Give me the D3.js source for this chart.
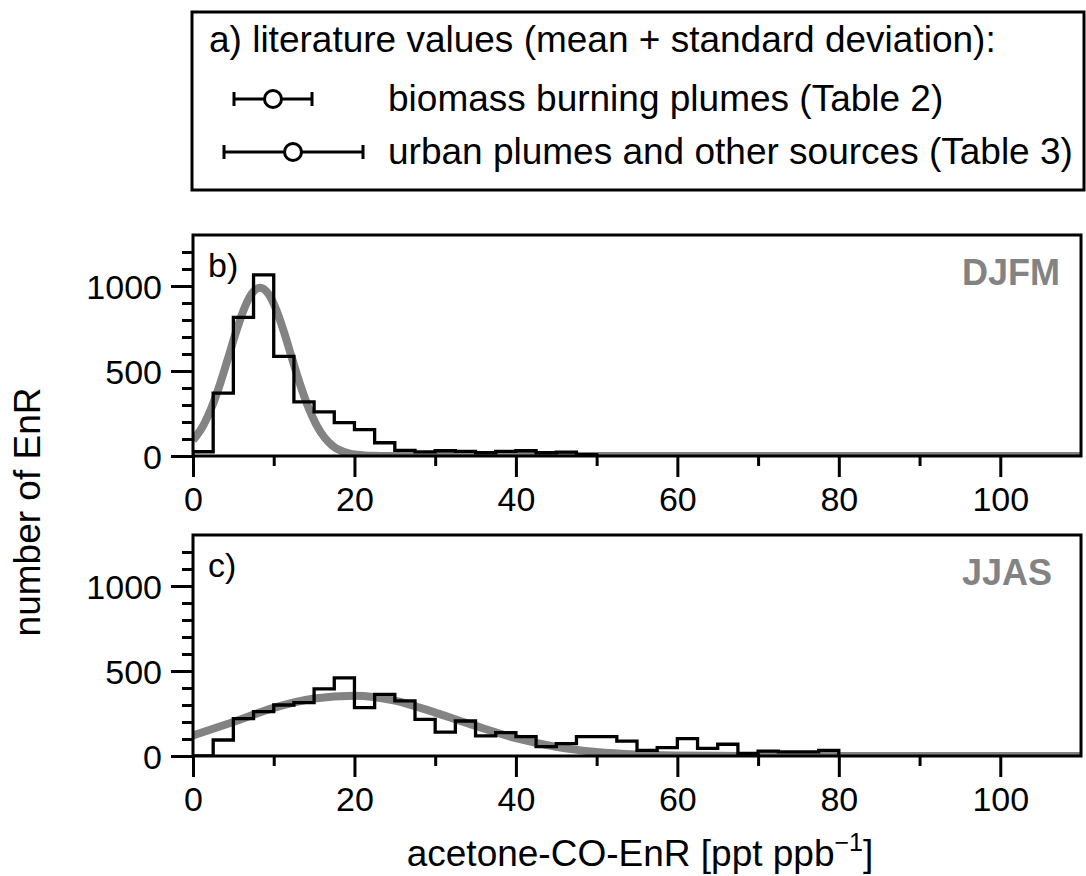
<!DOCTYPE html>
<html><head><meta charset="utf-8">
<script src="https://cdn.jsdelivr.net/npm/d3@7"></script>
<style>
body{margin:0;background:#fff}
svg{display:block;font-family:"Liberation Sans",Arial,Helvetica,sans-serif}
</style>
</head><body>
<svg id="chart" width="1086" height="876"></svg>
<script>
// ---------- data ----------
const binWidth = 2.5;
// panel b (DJFM) histogram counts, bins of 2.5 starting at 0
const countsDJFM = [25, 370, 816, 1066, 586, 318, 259, 196, 155, 78, 33, 24, 31, 27, 19, 27, 31, 19, 23, 8];
// panel c (JJAS) histogram counts
const countsJJAS = [0, 94, 220, 261, 300, 314, 395, 460, 284, 363, 324, 216, 141, 206, 118, 137, 114, 55, 73, 114, 114, 88, 33, 49, 102, 45, 69, 16, 29, 24, 24, 33];
// fitted curves
const fitXDJFM = [0, 1.3, 2.3, 3.3, 4.3, 5.3, 6.3, 7.3, 8.3, 9.3, 10.3, 11.3, 12.3, 13.3, 14.3, 15.3, 16.3, 17.3, 18.3, 19.3, 20.3, 21.3, 22.3, 24.3, 110];
const fitYDJFM = [92, 182, 285, 417, 569, 725, 862, 956, 990, 956, 862, 725, 569, 417, 285, 182, 108, 60, 31, 15, 7, 3, 1, 0, 0];
const fitXJJAS = [0, 5, 10, 15, 20, 25, 30, 35, 40, 45, 50, 55, 60, 65, 70, 110];
const fitYJJAS = [121, 200, 283, 338, 355, 326, 255, 177, 105, 54, 24, 9, 3, 1, 0, 0];
const xTicks = [0, 20, 40, 60, 80, 100];
const xMinorTicks = [10, 30, 50, 70, 90];
const yTicks = [0, 500, 1000];
const yMinorTicks = [100, 200, 300, 400, 600, 700, 800, 900, 1100, 1200];
const panelLabels = ["b)", "c)"];
const seasonLabels = ["DJFM", "JJAS"];
const legendTitle = "a) literature values (mean + standard deviation):";
const legendItems = ["biomass burning plumes (Table 2)", "urban plumes and other sources (Table 3)"];
const yTitle = "number of EnR";
const xTitle = "acetone-CO-EnR [ppt ppb";
const xTitleSup = "\u22121";

// ---------- layout ----------
const svg = d3.select("#chart");
const L = 193, R = 1081;
const panelTops = [235, 535];
const panelH = 221;
const x = d3.scaleLinear().domain([0, 110]).range([L, R]);
const gray = "#838383";

const series = [
  {counts: countsDJFM, fx: fitXDJFM, fy: fitYDJFM},
  {counts: countsJJAS, fx: fitXJJAS, fy: fitYJJAS}
];

series.forEach((s, k) => {
  const top = panelTops[k], bot = top + panelH;
  const y = d3.scaleLinear().domain([0, 1300]).range([bot, top]);
  const g = svg.append("g");
  const clipId = "clip" + k;
  svg.append("clipPath").attr("id", clipId).append("rect")
    .attr("x", L).attr("y", top).attr("width", R - L).attr("height", panelH);

  const plot = g.append("g").attr("clip-path", `url(#${clipId})`);
  const fitPts = s.fx.map((v, i) => [v, s.fy[i]]);
  plot.append("path")
    .attr("d", d3.line().x(d => x(d[0])).y(d => y(d[1])).curve(d3.curveMonotoneX)(fitPts))
    .attr("fill", "none").attr("stroke", gray).attr("stroke-width", 8);
  const pts = [[0, 0]].concat(s.counts.map((c, i) => [i * binWidth, c]));
  pts.push([s.counts.length * binWidth, 0]);
  plot.append("path")
    .attr("d", d3.line().x(d => x(d[0])).y(d => y(d[1])).curve(d3.curveStepAfter)(pts))
    .attr("fill", "none").attr("stroke", "#000").attr("stroke-width", 3.3);

  g.append("rect").attr("x", L).attr("y", top).attr("width", R - L).attr("height", panelH)
    .attr("fill", "none").attr("stroke", "#000").attr("stroke-width", 3);

  const xa = g.append("g").attr("transform", `translate(0,${bot})`)
    .call(d3.axisBottom(x).tickValues(xTicks).tickSize(21).tickPadding(8).tickFormat(d3.format("d")));
  const xm = g.append("g").attr("transform", `translate(0,${bot})`)
    .call(d3.axisBottom(x).tickValues(xMinorTicks).tickSize(10).tickFormat(""));
  const ya = g.append("g").attr("transform", `translate(${L},0)`)
    .call(d3.axisLeft(y).tickValues(yTicks).tickSize(22).tickPadding(9).tickFormat(d3.format("d")));
  const ym = g.append("g").attr("transform", `translate(${L},0)`)
    .call(d3.axisLeft(y).tickValues(yMinorTicks).tickSize(11).tickFormat(""));
  [xa, xm, ya, ym].forEach(a => {
    a.select(".domain").remove();
    a.selectAll("line").attr("stroke", "#000").attr("stroke-width", 3);
    a.selectAll("text").attr("fill", "#000").attr("font-size", 34)
      .attr("font-family", '"Liberation Sans", Arial, sans-serif');
  });
  xa.selectAll("text").attr("dy", null).attr("y", 55);
  ya.selectAll("text").attr("dy", "0.36em");

  g.append("text").attr("x", 208).attr("y", top + 42).attr("font-size", 34).text(panelLabels[k]);
  g.append("text").attr("x", 962).attr("y", top + 50).attr("font-size", 36)
    .attr("font-weight", "bold").attr("fill", gray).text(seasonLabels[k]);
});

svg.append("text").attr("transform", "translate(40,512) rotate(-90)")
  .attr("text-anchor", "middle").attr("font-size", 37).text(yTitle);
const xt = svg.append("text").attr("x", 640).attr("y", 866).attr("text-anchor", "middle").attr("font-size", 37);
xt.append("tspan").text(xTitle);
xt.append("tspan").attr("font-size", 25).attr("dy", -15).text(xTitleSup);
xt.append("tspan").attr("dy", 15).text("]");

const lg = svg.append("g");
lg.append("rect").attr("x", 192).attr("y", 12).attr("width", 892).attr("height", 178)
  .attr("fill", "none").attr("stroke", "#000").attr("stroke-width", 3);
lg.append("text").attr("x", 209).attr("y", 52).attr("font-size", 37).text(legendTitle);
const symbols = [{x0: 234, x1: 312, cx: 273, cy: 99}, {x0: 224, x1: 363, cx: 293, cy: 152}];
legendItems.forEach((t, i) => {
  const s = symbols[i];
  lg.append("line").attr("x1", s.x0).attr("x2", s.x1).attr("y1", s.cy).attr("y2", s.cy)
    .attr("stroke", "#000").attr("stroke-width", 3);
  [s.x0, s.x1].forEach(v => lg.append("line").attr("x1", v).attr("x2", v)
    .attr("y1", s.cy - 7).attr("y2", s.cy + 7).attr("stroke", "#000").attr("stroke-width", 3));
  lg.append("circle").attr("cx", s.cx).attr("cy", s.cy).attr("r", 8.5)
    .attr("fill", "#fff").attr("stroke", "#000").attr("stroke-width", 3);
  lg.append("text").attr("x", 388).attr("y", s.cy + 12).attr("font-size", 37).text(t);
});
</script>
</body></html>
